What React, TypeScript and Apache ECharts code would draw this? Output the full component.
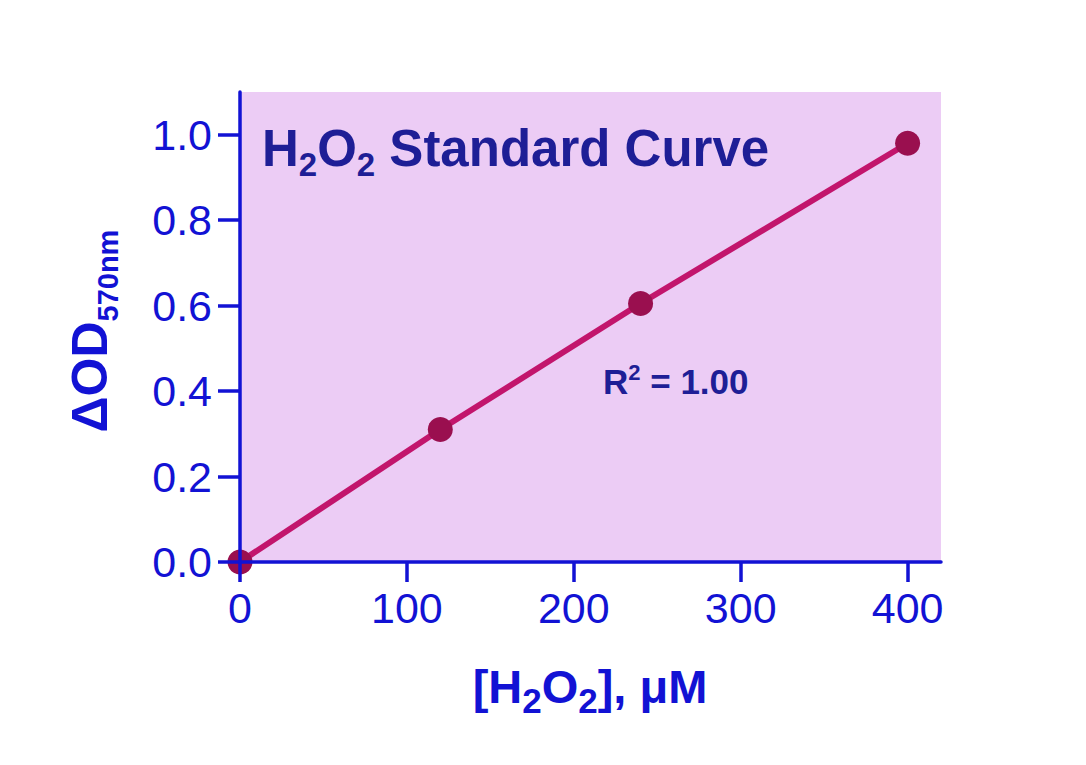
import React, { useEffect, useRef } from "react";
import * as echarts from "echarts";

const concentrations = [0, 120, 240, 400];
const odValues = [0, 0.31, 0.605, 0.98];
const xTickValues = [0, 100, 200, 300, 400];
const yTickValues = [0, 0.2, 0.4, 0.6, 0.8, 1.0];

const AXIS_BLUE = "#1212d4";
const NAVY = "#1e1e96";
const FONT = "'Liberation Sans', Arial, sans-serif";

export default function App() {
  const ref = useRef<HTMLDivElement>(null);
  useEffect(() => {
    if (!ref.current) return;
    const chart = echarts.init(ref.current, null, { renderer: "svg" });
    const axisCommon = {
      z: 10,
      axisLine: { show: true, onZero: false, lineStyle: { color: AXIS_BLUE, width: 3.5 } },
      axisTick: { show: true, inside: false, lineStyle: { color: AXIS_BLUE, width: 3.5 } },
      splitLine: { show: false },
    };
    const tok = (size: number, color: string, extra: any = {}) => ({
      fontSize: size,
      fontWeight: "bold",
      fontFamily: FONT,
      fill: color,
      color,
      ...extra,
    });
    chart.setOption({
      animation: false,
      backgroundColor: "#ffffff",
      grid: {
        left: 240,
        top: 92,
        width: 701,
        height: 470,
        show: true,
        backgroundColor: "#ecccf5",
        borderWidth: 0,
      },
      xAxis: {
        type: "value",
        min: 0,
        max: 420,
        interval: 100,
        ...axisCommon,
        axisTick: { ...axisCommon.axisTick, length: 20, customValues: xTickValues },
        axisLabel: {
          customValues: xTickValues,
          color: AXIS_BLUE,
          fontSize: 43,
          fontFamily: FONT,
          margin: 24,
        },
      },
      yAxis: {
        type: "value",
        min: 0,
        max: 1.1,
        interval: 0.2,
        ...axisCommon,
        axisTick: { ...axisCommon.axisTick, length: 22, customValues: yTickValues },
        axisLabel: {
          customValues: yTickValues,
          color: AXIS_BLUE,
          fontSize: 43,
          fontFamily: FONT,
          margin: 28,
          formatter: (v: number) => v.toFixed(1),
        },
      },
      series: [
        {
          type: "line",
          data: concentrations.map((c, i) => [c, odValues[i]]),
          lineStyle: { color: "#c2156c", width: 6 },
          symbol: "circle",
          symbolSize: 25,
          itemStyle: { color: "#9a0f4f" },
          z: 2,
        },
      ],
      graphic: [
        {
          type: "text",
          x: 262,
          y: 148,
          style: {
            text: "{a|H}{s|2}{a|O}{s|2}{a| Standard Curve}",
            align: "left",
            verticalAlign: "middle",
            rich: {
              a: tok(51, NAVY, { lineHeight: 100 }),
              s: tok(33, NAVY, { lineHeight: 40, padding: [32, 0, 0, 0] }),
            },
          },
        },
        {
          type: "text",
          x: 603,
          y: 381,
          style: {
            text: "{a|R}{p|2}{a| = 1.00}",
            align: "left",
            verticalAlign: "middle",
            rich: {
              a: tok(35, NAVY, { lineHeight: 80 }),
              p: tok(22, NAVY, { lineHeight: 26, padding: [0, 0, 18, 0] }),
            },
          },
        },
        {
          type: "text",
          x: 590,
          y: 686,
          style: {
            text: "{a|[H}{s|2}{a|O}{s|2}{a|], μM}",
            align: "center",
            verticalAlign: "middle",
            rich: {
              a: tok(47, AXIS_BLUE, { lineHeight: 100 }),
              s: tok(35, AXIS_BLUE, { lineHeight: 40, padding: [29, 0, 0, 0] }),
            },
          },
        },
        {
          type: "text",
          x: 90,
          y: 331,
          rotation: Math.PI / 2,
          style: {
            text: "{a|ΔOD}{s|570nm}",
            align: "center",
            verticalAlign: "middle",
            rich: {
              a: tok(50, AXIS_BLUE, { lineHeight: 100 }),
              s: tok(29, AXIS_BLUE, { lineHeight: 34, padding: [36, 0, 0, 0] }),
            },
          },
        },
      ],
    });
    return () => chart.dispose();
  }, []);
  return (
    <div
      ref={ref}
      style={{ position: "fixed", left: 0, top: 0, width: 1086, height: 765 }}
    />
  );
}
